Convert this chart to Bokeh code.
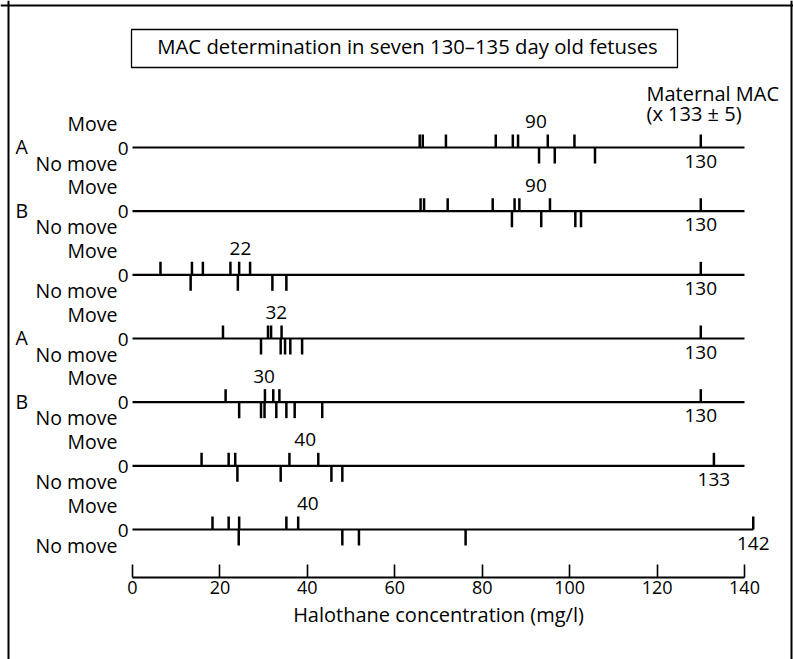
from bokeh.plotting import figure
from bokeh.models import Range1d, LinearAxis, FixedTicker, Span
from bokeh.core.properties import value
from bokeh.embed import file_html
from bokeh.resources import INLINE

# ---------------- data (mg/l) ----------------
move_1 = [65.7, 66.4, 71.7, 83.1, 87.0, 88.2, 95.0, 101.1]
nomove_1 = [93.0, 96.6, 105.8]
move_2 = [65.9, 66.7, 72.1, 82.4, 87.4, 88.5, 95.5]
nomove_2 = [86.8, 93.5, 101.3, 102.6]
move_3 = [6.4, 13.6, 16.1, 22.4, 24.4, 26.9]
nomove_3 = [13.3, 24.1, 32.0, 35.2]
move_4 = [20.7, 31.0, 31.7, 34.1]
nomove_4 = [29.4, 33.9, 34.9, 36.1, 38.8]
move_5 = [21.3, 30.3, 32.2, 33.6]
nomove_5 = [24.4, 29.4, 30.2, 32.9, 35.2, 37.1, 43.4]
move_6 = [15.8, 22.0, 23.5, 35.9, 42.5]
nomove_6 = [24.0, 33.9, 45.5, 48.0]
move_7 = [18.3, 22.0, 24.4, 35.2, 37.9]
nomove_7 = [24.3, 48.0, 51.8, 76.2]

moves = [move_1, move_2, move_3, move_4, move_5, move_6, move_7]
nomoves = [nomove_1, nomove_2, nomove_3, nomove_4, nomove_5, nomove_6, nomove_7]

fetal_mac = ["90", "90", "22", "32", "30", "40", "40"]
fetal_mac_x = [92.3, 92.3, 24.7, 32.9, 30.1, 39.5, 40.1]
maternal_mac = [130, 130, 130, 130, 130, 133, 142]
row_letters = ["A", "B", "", "A", "B", "", ""]
x_ticks = [0, 20, 40, 60, 80, 100, 120, 140]

title = "MAC determination in seven 130\u2013135 day old fetuses"
x_label = "Halothane concentration (mg/l)"

FONT = "Open Sans"

# ---------------- geometry helpers (page pixels -> data) ----------------
W, H = 793, 659
PAGE = 0
PX0 = 132.0               # page x of 0 mg/l
PXS = (744.0 - 132.0) / 140.0   # px per mg/l
AXIS_PY = 577.0
ROW_PY0 = 147.0
ROW_DY = (529.0 - 147.0) / 6.0


def xd(px):
    return (px - PX0) / PXS


def yd(py):
    return (AXIS_PY - py) / ROW_DY


DX = 1.0 / PXS     # one px in x data units
DY = 1.0 / ROW_DY  # one px in y data units

p = figure(width=W, height=H, output_backend="svg", toolbar_location=None,
           x_axis_type=None, y_axis_type=None, min_border=0,
           x_range=Range1d(xd(PAGE), xd(PAGE + W)),
           y_range=Range1d(yd(PAGE + H), yd(PAGE)))
p.outline_line_color = None
p.xgrid.visible = False
p.ygrid.visible = False
p.background_fill_color = "white"
p.border_fill_color = "white"

# outer frame (left, top, right)
for loc, dim in [(xd(8), "height"), (xd(791), "height"), (yd(5), "width")]:
    p.add_layout(Span(location=loc, dimension=dim, line_color="black", line_width=2))

row_y = [yd(ROW_PY0 + k * ROW_DY) for k in range(7)]

# title box
p.quad(left=xd(131), right=xd(677), top=yd(29), bottom=yd(67),
       fill_color="white", line_color="black", line_width=1.3)
txt = dict(text_font=value(FONT), text_color="black", text_baseline="middle")
p.text(x=[xd(407)], y=[yd(45)], text=[title], text_align="center",
       text_font_size="20.3px", **txt)

# rows
for k in range(7):
    y0 = row_y[k]
    end = max(140, maternal_mac[k])
    p.line([0, end], [y0, y0], line_color="black", line_width=2.2)
    mv = moves[k]
    nm = nomoves[k]
    p.segment(x0=mv, y0=[y0] * len(mv), x1=mv, y1=[y0 + 13 * DY] * len(mv),
              line_color="black", line_width=2.5)
    p.segment(x0=nm, y0=[y0] * len(nm), x1=nm, y1=[y0 - 16 * DY] * len(nm),
              line_color="black", line_width=2.5)
    # maternal MAC tick
    p.segment(x0=[maternal_mac[k]], y0=[y0], x1=[maternal_mac[k]], y1=[y0 + 13 * DY],
              line_color="black", line_width=2.5)

# fetal MAC labels
p.text(x=fetal_mac_x, y=[y + 26 * DY for y in row_y], text=fetal_mac,
       text_align="center", text_font_size="19px", **txt)
# maternal labels
p.text(x=maternal_mac, y=[y - 13.5 * DY for y in row_y], text=[str(m) for m in maternal_mac],
       text_align="center", text_font_size="19px", **txt)
# row labels
p.text(x=[-15 * DX] * 7, y=[y + 24.5 * DY for y in row_y], text=["Move"] * 7,
       text_align="right", text_font_size="19.5px", **txt)
p.text(x=[-15 * DX] * 7, y=[y - 15.5 * DY for y in row_y], text=["No move"] * 7,
       text_align="right", text_font_size="19.5px", **txt)
p.text(x=[-4 * DX] * 7, y=[y - 0.5 * DY for y in row_y], text=["0"] * 7,
       text_align="right", text_font_size="19px", **txt)
p.text(x=[xd(15)] * 7, y=[y + 1 * DY for y in row_y], text=row_letters,
       text_align="left", text_font_size="19.5px", **txt)

# maternal header
p.text(x=[xd(646), xd(646)], y=[yd(93), yd(113)],
       text=["Maternal MAC", "(x 133 \u00b1 5)"],
       text_align="left", text_font_size="20px", **txt)

# bottom axis
ax = LinearAxis(fixed_location=0, bounds=(0, 140), ticker=FixedTicker(ticks=x_ticks),
                axis_label=x_label)
ax.major_tick_in = 13
ax.major_tick_out = 0
ax.minor_tick_in = 0
ax.minor_tick_out = 0
ax.axis_line_width = 2
ax.major_tick_line_width = 1.6
ax.major_label_standoff = 3
ax.major_label_text_font = FONT
ax.major_label_text_font_size = "18px"
ax.major_label_text_color = "black"
ax.axis_label_text_font = FONT
ax.axis_label_text_font_size = "20px"
ax.axis_label_text_font_style = "normal"
ax.axis_label_text_color = "black"
ax.axis_label_standoff = 4
p.add_layout(ax, "below")

open("out.html", "w").write(file_html(p, INLINE))
